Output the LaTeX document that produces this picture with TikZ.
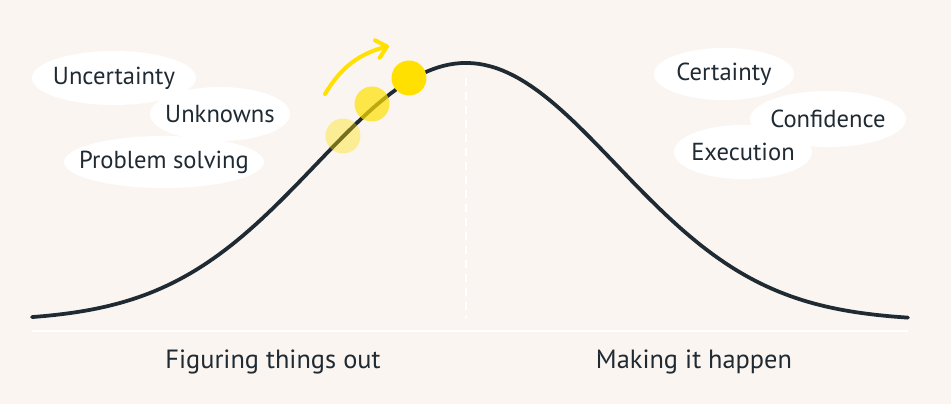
\documentclass[tikz,border=0pt]{standalone}
\usepackage{fontspec}
\setmainfont{PT Sans}
\usepackage{tikz}
\usetikzlibrary{arrows.meta,backgrounds,calc}
\pgfdeclarelayer{backdrop}
\pgfsetlayers{backdrop,background,main}
\definecolor{paper}{RGB}{250,245,240}
\definecolor{ink}{RGB}{31,42,51}
\definecolor{sun}{RGB}{255,224,0}

\begin{document}
\begin{tikzpicture}[x=0.02cm,y=-0.02cm,
  word/.style={text=ink,font=\fontsize{14}{16}\selectfont,inner sep=0pt},
  phase/.style={text=ink,font=\fontsize{15}{18}\selectfont,inner sep=0pt},
  blob/.style={fill=white},
  dot/.style={circle,fill=sun,minimum size=0.7cm,inner sep=0pt}]
\begin{pgfonlayer}{backdrop}
\fill[paper] (0,0) rectangle (951,404);
\end{pgfonlayer}
\useasboundingbox (0,0) rectangle (951,404);

\node (uncert) at (114,78) [word] {Uncertainty};
\node (unknown) at (220,114) [word] {Unknowns};
\node (solving) at (164,162) [word] {Problem solving};
\node (cert) at (724,74) [word] {Certainty};
\node (confid) at (828,119) [word] {Confidence};
\node (exec) at (743,152) [word] {Execution};

\begin{pgfonlayer}{background}
\fill[blob] (uncert) ellipse [x radius=82, y radius=27];
\fill[blob] (unknown) ellipse [x radius=70, y radius=27];
\fill[blob] (solving) ellipse [x radius=100, y radius=26];
\fill[blob] (cert) ellipse [x radius=70, y radius=26];
\fill[blob] (confid) ellipse [x radius=78, y radius=28];
\fill[blob] (exec) ellipse [x radius=69, y radius=27];
\end{pgfonlayer}

\coordinate (base l) at (32,331);
\coordinate (base r) at (908,331);
\coordinate (mid t) at (466,78);
\coordinate (mid b) at (466,318);
\draw[white,line width=0.05cm] (base l) -- (base r);
\draw[white,line width=0.04cm,dash pattern=on 0.16cm off 0.12cm] (mid t) -- (mid b);

\draw[ink,line width=0.075cm,line cap=round] plot[domain=32:908,samples=150]
  (\x,{321-258*exp(-0.5*((\x-466)/150)^2)});

\node (d1) at (343,136) [dot,opacity=0.38] {};
\node (d2) at (372,104) [dot,opacity=0.7] {};
\node (d3) at (409,78) [dot] {};

\coordinate (a0) at (325,94);
\coordinate (a1) at (389,46);
\draw[sun,line width=0.08cm,line cap=round,-{Straight Barb[length=0.2cm,width=0.36cm,round]}]
  (a0) to[bend left=22] (a1);

\node (figure) at (273,362) [phase] {Figuring things out};
\node (happen) at (694,362) [phase] {Making it happen};
\end{tikzpicture}
\end{document}
